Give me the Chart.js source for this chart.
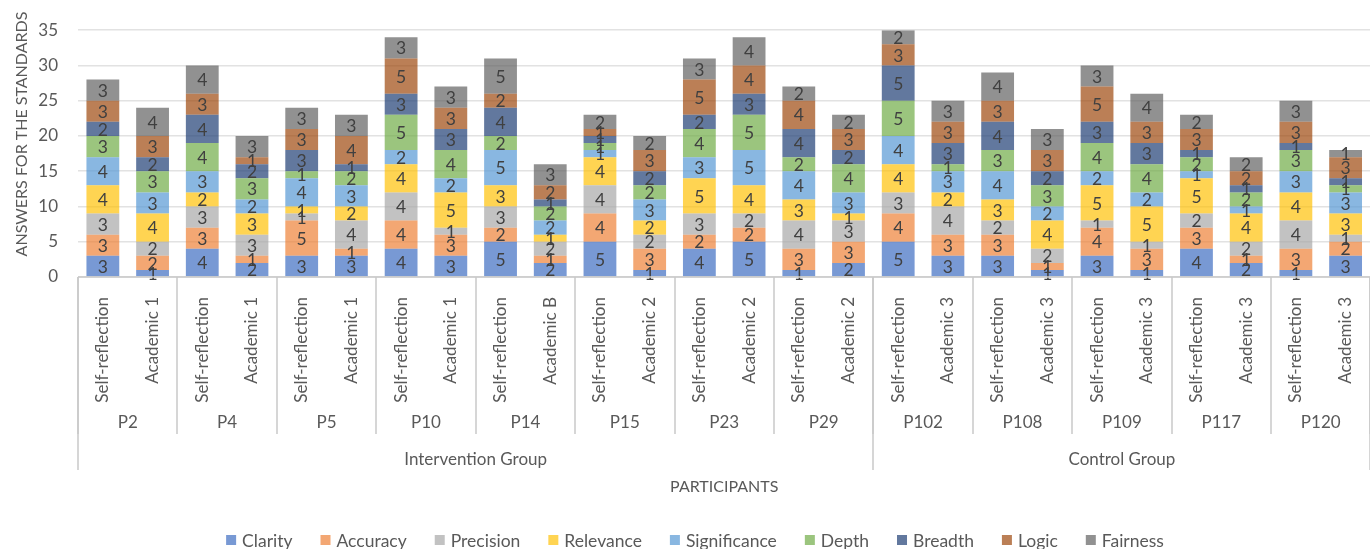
<!DOCTYPE html>
<html>
<head>
<meta charset="utf-8">
<title>Answers for the standards</title>
<script src="https://cdn.jsdelivr.net/npm/chart.js@4.4.1/dist/chart.umd.min.js"></script>
<style>
  html, body { margin: 0; padding: 0; background: #fff; overflow: hidden; }
  #wrap { position: relative; width: 1378px; height: 549px; }
</style>
</head>
<body>
<div id="wrap"><canvas id="chart"></canvas></div>
<script>
// one bar per text, two texts per participant
const barLabels = [
  'Self-reflection', 'Academic 1', 'Self-reflection', 'Academic 1', 'Self-reflection', 'Academic 1',
  'Self-reflection', 'Academic 1', 'Self-reflection', 'Academic B', 'Self-reflection', 'Academic 2',
  'Self-reflection', 'Academic 2', 'Self-reflection', 'Academic 2', 'Self-reflection', 'Academic 3',
  'Self-reflection', 'Academic 3', 'Self-reflection', 'Academic 3', 'Self-reflection', 'Academic 3',
  'Self-reflection', 'Academic 3'
];
const participants = ['P2', 'P4', 'P5', 'P10', 'P14', 'P15', 'P23', 'P29', 'P102', 'P108', 'P109', 'P117', 'P120'];
const groups = ['Intervention Group', 'Control Group'];
const groupSizes = [8, 5]; // participants in each group

// answers per standard, bottom to top of each stack
const clarity      = [3, 1, 4, 2, 3, 3, 4, 3, 5, 2, 5, 1, 4, 5, 1, 2, 5, 3, 3, 1, 3, 1, 4, 2, 1, 3];
const accuracy     = [3, 2, 3, 1, 5, 1, 4, 3, 2, 1, 4, 3, 2, 2, 3, 3, 4, 3, 3, 1, 4, 3, 3, 1, 3, 2];
const precision    = [3, 2, 3, 3, 1, 4, 4, 1, 3, 2, 4, 2, 3, 2, 4, 3, 3, 4, 2, 2, 1, 1, 2, 2, 4, 1];
const relevance    = [4, 4, 2, 3, 1, 2, 4, 5, 3, 1, 4, 2, 5, 4, 3, 1, 4, 2, 3, 4, 5, 5, 5, 4, 4, 3];
const significance = [4, 3, 3, 2, 4, 3, 2, 2, 5, 2, 1, 3, 3, 5, 4, 3, 4, 3, 4, 2, 2, 2, 1, 1, 3, 3];
const depth        = [3, 3, 4, 3, 1, 2, 5, 4, 2, 2, 1, 2, 4, 5, 2, 4, 5, 1, 3, 3, 4, 4, 2, 2, 3, 1];
const breadth      = [2, 2, 4, 2, 3, 1, 3, 3, 4, 1, 1, 2, 2, 3, 4, 2, 5, 3, 4, 2, 3, 3, 1, 1, 1, 1];
const logic        = [3, 3, 3, 1, 3, 4, 5, 3, 2, 2, 1, 3, 5, 4, 4, 3, 3, 3, 3, 3, 5, 3, 3, 2, 3, 3];
const fairness     = [3, 4, 4, 3, 3, 3, 3, 3, 5, 3, 2, 2, 3, 4, 2, 2, 2, 3, 4, 3, 3, 4, 2, 2, 3, 1];

const textColor = '#595959';
const lineColor = '#c8c8c8';
Chart.defaults.font.family = 'Lato';

const series = [
  ['Clarity', clarity, 'rgba(68, 114, 196, 0.72)'],
  ['Accuracy', accuracy, 'rgba(237, 125, 49, 0.68)'],
  ['Precision', precision, 'rgba(165, 165, 165, 0.68)'],
  ['Relevance', relevance, 'rgba(255, 192, 0, 0.68)'],
  ['Significance', significance, 'rgba(91, 155, 213, 0.72)'],
  ['Depth', depth, 'rgba(112, 173, 71, 0.7)'],
  ['Breadth', breadth, 'rgba(38, 68, 120, 0.72)'],
  ['Logic', logic, 'rgba(158, 72, 14, 0.7)'],
  ['Fairness', fairness, 'rgba(99, 99, 99, 0.7)']
];

// values inside the segments, multi-level category axis, titles and legend
const extras = {
  id: 'extras',
  afterDatasetsDraw(chart) {
    const ctx = chart.ctx;
    ctx.save();
    ctx.font = '17.5px Lato';
    ctx.fillStyle = '#404040';
    ctx.textAlign = 'center';
    ctx.textBaseline = 'middle';
    chart.data.datasets.forEach((ds, i) => {
      chart.getDatasetMeta(i).data.forEach((bar, j) => {
        const v = ds.data[j];
        if (!v) return;
        const p = bar.getProps(['x', 'y', 'base'], true);
        ctx.fillText(String(v), p.x, (p.y + p.base) / 2 + 1);
      });
    });
    ctx.restore();
  },
  afterDraw(chart) {
    const ctx = chart.ctx;
    const xs = chart.scales.x;
    const area = chart.chartArea;
    const half = (xs.getPixelForValue(1) - xs.getPixelForValue(0)) / 2;
    const edge = k => xs.getPixelForValue(k) - half;
    const base = area.bottom;

    ctx.save();
    ctx.strokeStyle = lineColor;
    ctx.lineWidth = 1.5;
    ctx.beginPath();
    ctx.moveTo(area.left, base);
    ctx.lineTo(area.right, base);
    ctx.stroke();

    // participant boundaries
    for (let k = 0; k <= barLabels.length; k += 2) {
      const x = Math.round(edge(k));
      ctx.beginPath();
      ctx.moveTo(x, base);
      ctx.lineTo(x, base + 157);
      ctx.stroke();
    }
    // group boundaries
    let start = 0;
    const groupEdges = [0];
    groupSizes.forEach(n => { start += n * 2; groupEdges.push(start); });
    groupEdges.forEach(k => {
      const x = Math.round(edge(k));
      ctx.beginPath();
      ctx.moveTo(x, base);
      ctx.lineTo(x, base + 193);
      ctx.stroke();
    });

    ctx.fillStyle = textColor;
    ctx.textAlign = 'center';
    ctx.textBaseline = 'middle';
    ctx.font = '17px Lato';
    participants.forEach((p, i) => {
      ctx.fillText(p, (edge(i * 2) + edge(i * 2 + 2)) / 2, base + 146);
    });
    groups.forEach((g, i) => {
      ctx.fillText(g, (edge(groupEdges[i]) + edge(groupEdges[i + 1])) / 2, base + 183);
    });
    ctx.font = '16px Lato';
    ctx.fillText('PARTICIPANTS', (area.left + area.right) / 2, base + 210);

    ctx.save();
    ctx.translate(22, 134);
    ctx.rotate(-Math.PI / 2);
    ctx.fillText('ANSWERS FOR THE STANDARDS', 0, 0);
    ctx.restore();

    // legend
    ctx.font = '17.5px Lato';
    ctx.textAlign = 'left';
    const box = 10, gap = 6, spacing = 28;
    const widths = chart.data.datasets.map(ds => box + gap + ctx.measureText(ds.label).width);
    const total = widths.reduce((a, b) => a + b, 0) + spacing * (widths.length - 1);
    let x = 695 - total / 2;
    const ly = 540;
    chart.data.datasets.forEach((ds, i) => {
      ctx.fillStyle = ds.backgroundColor;
      ctx.fillRect(x, ly - box / 2, box, box);
      ctx.fillStyle = textColor;
      ctx.fillText(ds.label, x + box + gap, ly + 1);
      x += widths[i] + spacing;
    });
    ctx.restore();
  }
};

new Chart(document.getElementById('chart'), {
  type: 'bar',
  data: {
    labels: barLabels,
    datasets: series.map(([label, data, color]) => ({
      label: label,
      data: data,
      backgroundColor: color,
      borderWidth: 0,
      categoryPercentage: 1,
      barPercentage: 0.66
    }))
  },
  options: {
    responsive: true,
    maintainAspectRatio: false,
    animation: false,
    layout: { padding: { top: 26, left: 0, right: 0, bottom: 0 } },
    plugins: {
      legend: { display: false },
      tooltip: { enabled: false }
    },
    scales: {
      x: {
        stacked: true,
        grid: { display: false },
        border: { display: false },
        ticks: {
          autoSkip: false,
          minRotation: 90,
          maxRotation: 90,
          padding: 12,
          color: textColor,
          font: { size: 17 }
        },
        afterFit(scale) { scale.height = 272; }
      },
      y: {
        stacked: true,
        min: 0,
        max: 35,
        ticks: { stepSize: 5, padding: 20, color: textColor, font: { size: 17 } },
        grid: { color: '#e2e2e2', lineWidth: 1.5, drawTicks: false },
        border: { display: false },
        afterFit(scale) { scale.width = 78; }
      }
    }
  },
  plugins: [extras]
});
</script>
</body>
</html>
